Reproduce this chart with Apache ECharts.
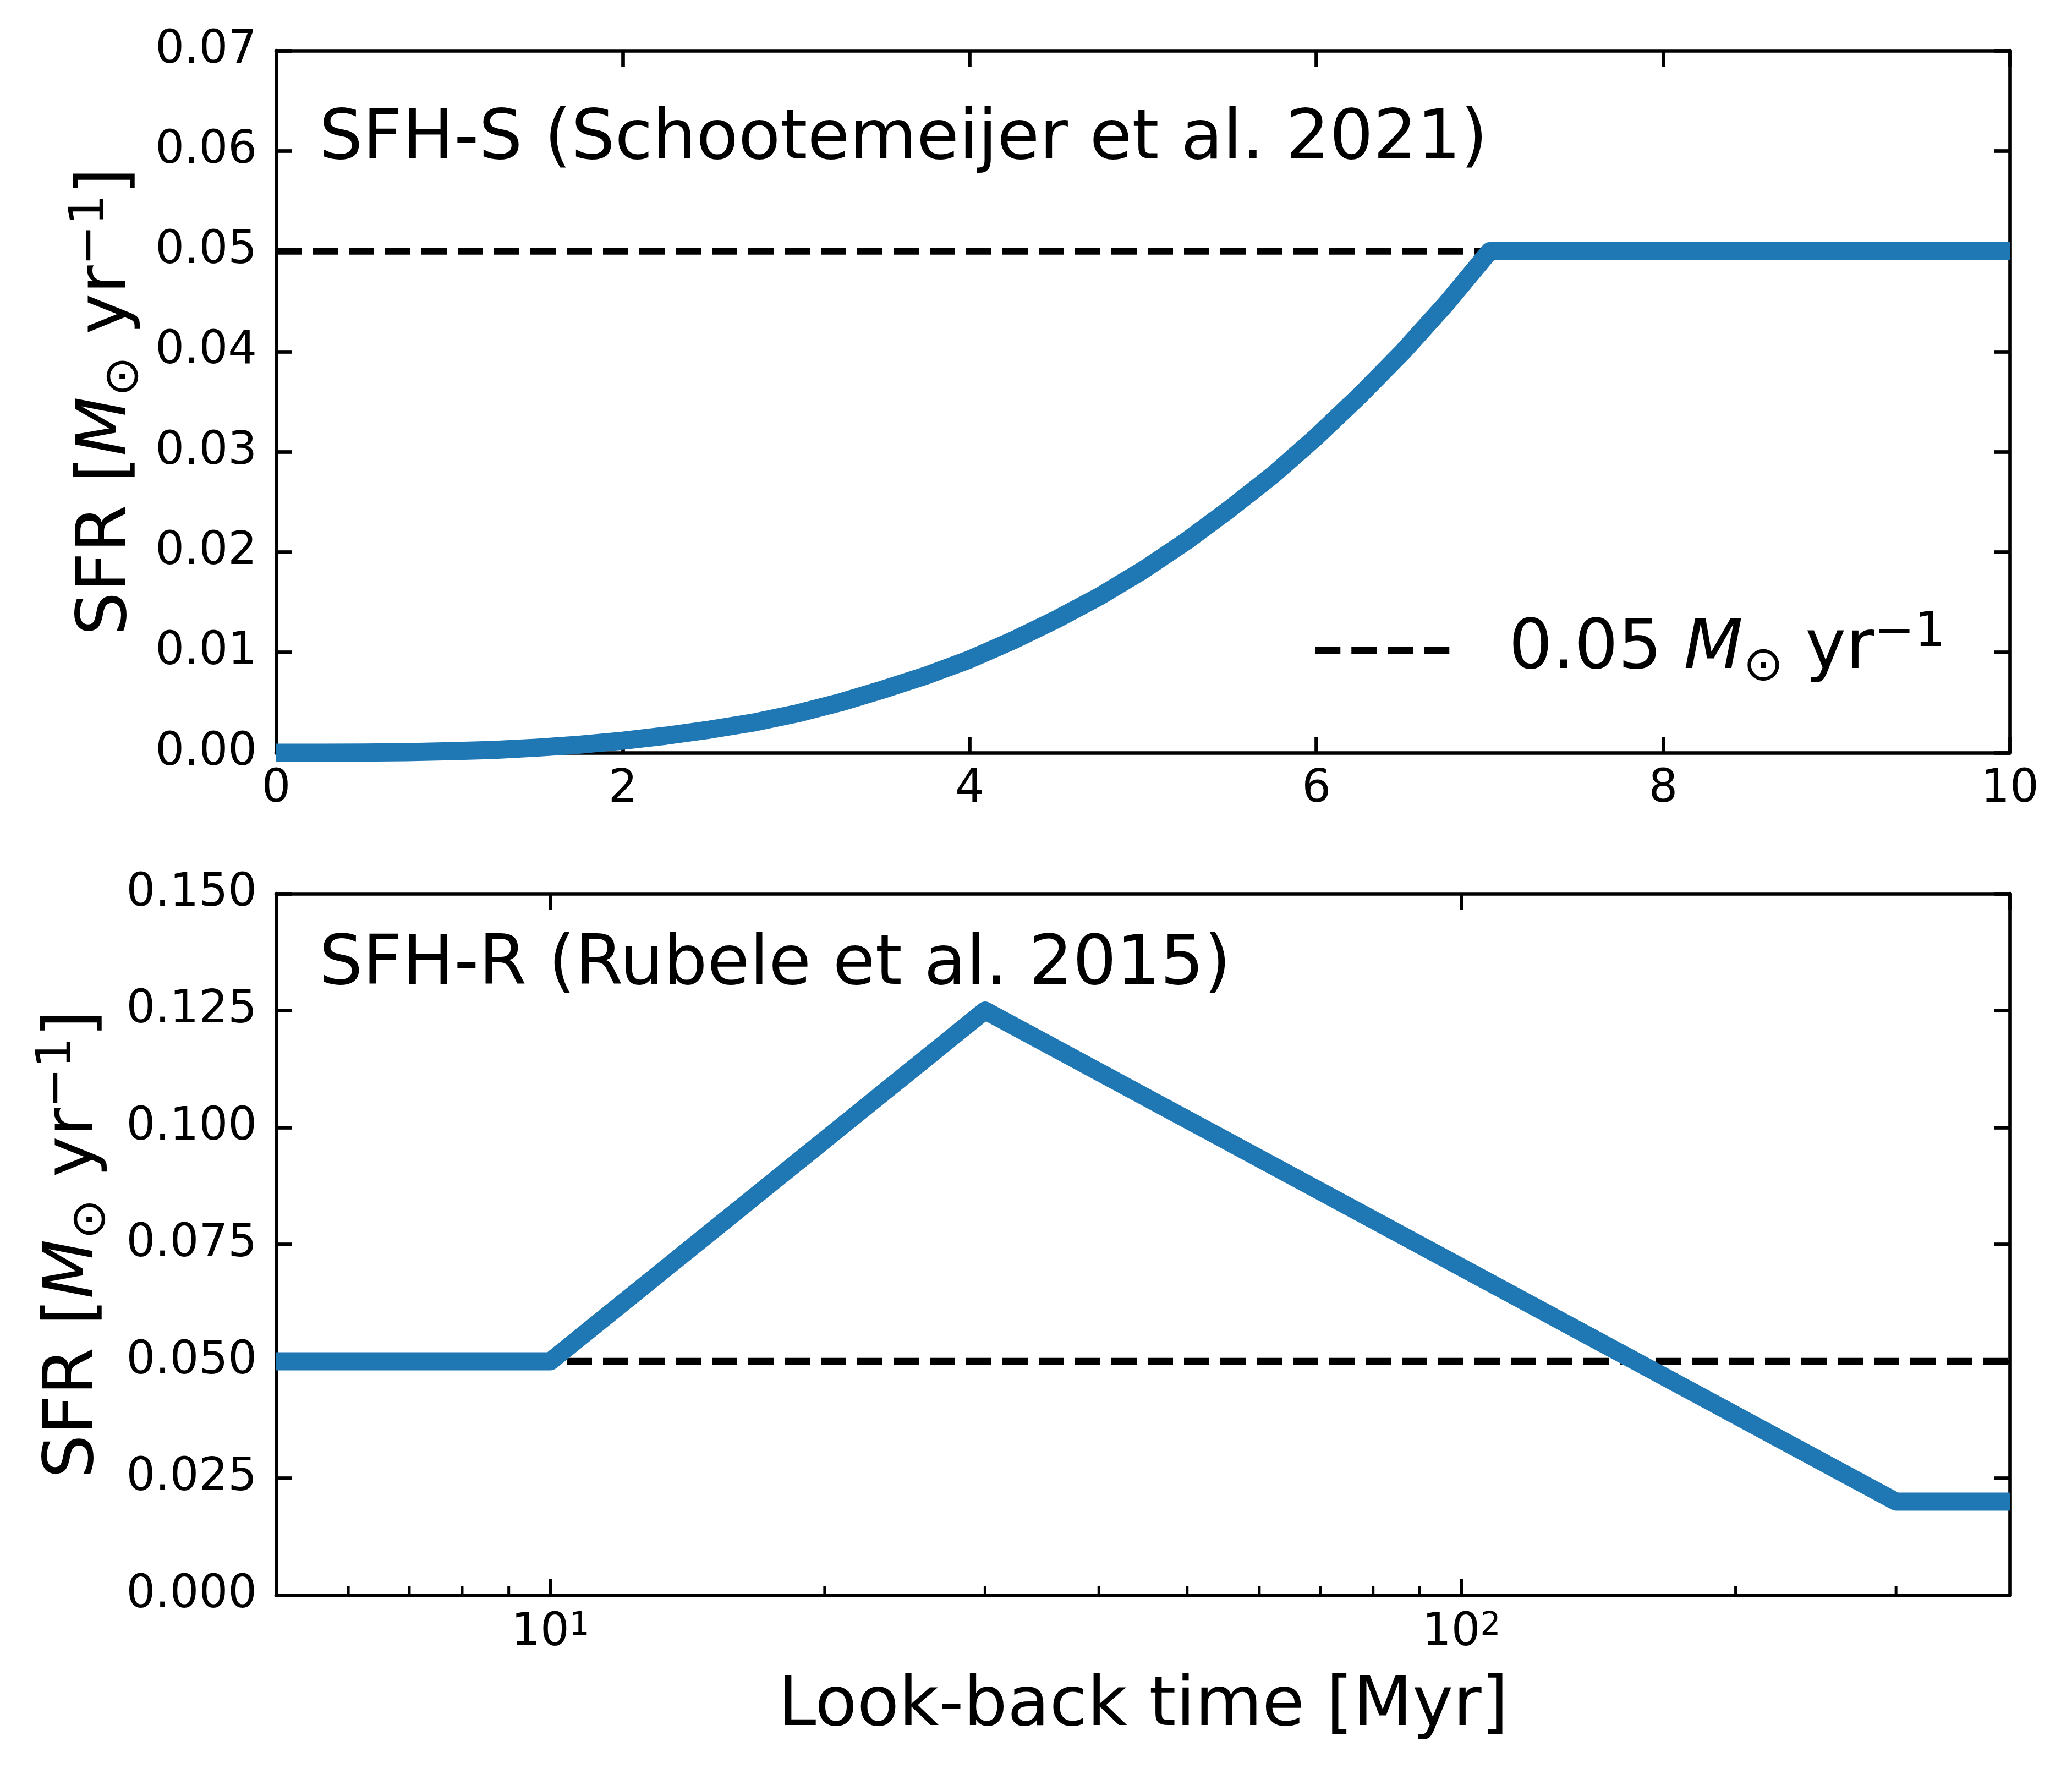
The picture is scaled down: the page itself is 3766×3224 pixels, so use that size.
<!DOCTYPE html>
<html><head><meta charset="utf-8">
<script src="https://cdn.jsdelivr.net/npm/echarts@6/dist/echarts.min.js"></script>
<style>html,body{margin:0;padding:0;background:#fff}#c{width:3766px;height:3224px}</style>
</head><body><div id="c"></div>
<script>
// ---- data ----
const topTime = [0, 0.25, 0.5, 0.75, 1, 1.25, 1.5, 1.75, 2, 2.25, 2.5, 2.75, 3, 3.25, 3.5, 3.75,
                 4, 4.25, 4.5, 4.75, 5, 5.25, 5.5, 5.75, 6, 6.25, 6.5, 6.75, 7, 10];
const topSFR  = [0, 0.000002, 0.00002, 0.00006, 0.00015, 0.00028, 0.0005, 0.0008, 0.0012, 0.0017,
                 0.0023, 0.0030, 0.0039, 0.0050, 0.0063, 0.0077, 0.0093, 0.0112, 0.0133, 0.0156,
                 0.0182, 0.0211, 0.0243, 0.0277, 0.0315, 0.0356, 0.0400, 0.0448, 0.05, 0.05];
const botTime = [5, 10, 30, 300, 400];
const botSFR  = [0.05, 0.05, 0.125, 0.02, 0.02];
const refLevel = 0.05;
const topXRange = [0, 10], topXStep = 2;
const topYRange = [0, 0.07], topYStep = 0.01;
const botXRange = [5, 400];
const botYRange = [0, 0.15], botYStep = 0.025;
const minorTickTimes = [6, 7, 8, 9, 20, 30, 40, 50, 60, 70, 80, 90, 200, 300];
const topTitle = 'SFH-S (Schootemeijer et al. 2021)';
const botTitle = 'SFH-R (Rubele et al. 2015)';
const xName = 'Look-back time [Myr]';

// ---- styles ----
const FF = 'DejaVu Sans';
const BLUE = '#1f77b4';
const FS_TICK = 83, FS_LAB = 125;
const AXW = 6.67;
const unitRich = {
  n: {fontFamily: FF, fontSize: FS_LAB, color: '#000', lineHeight: 150},
  i: {fontFamily: FF, fontSize: FS_LAB, fontStyle: 'italic', color: '#000', lineHeight: 150},
  sub: {fontFamily: FF, fontSize: 87.5, color: '#000', lineHeight: 108, verticalAlign: 'bottom'},
  sup: {fontFamily: FF, fontSize: 87.5, color: '#000', lineHeight: 76, verticalAlign: 'top'},
  g: {width: 102, lineHeight: 150, fontSize: FS_LAB, fontFamily: FF}
};
const yNameStr = '{n|SFR [}{i|M}{sub|⊙}{n| yr}{sup|−1}{n|]}';

const G1 = {left: 502, top: 92, width: 3151, height: 1276};
const G2 = {left: 502, top: 1624, width: 3151, height: 1275};

function axisBase() {
  return {
    axisLine: {show: true, onZero: false, lineStyle: {color: '#000', width: AXW}},
    axisTick: {show: true, inside: true, length: 29, lineStyle: {color: '#000', width: AXW}},
    splitLine: {show: false},
    minorTick: {show: false},
    nameMoveOverlap: false
  };
}
function valueX(grid, pos, range, step, labels) {
  return Object.assign(axisBase(), {
    type: 'value', gridIndex: grid, position: pos, min: range[0], max: range[1], interval: step,
    axisLabel: {show: labels, margin: 26, fontFamily: FF, fontSize: FS_TICK, color: '#000',
      formatter: v => String(v)}
  });
}
function valueY(grid, pos, range, step, labels, dec) {
  return Object.assign(axisBase(), {
    type: 'value', gridIndex: grid, position: pos, min: range[0], max: range[1], interval: step,
    axisLabel: {show: labels, margin: 35, fontFamily: FF, fontSize: FS_TICK, color: '#000',
      formatter: v => v.toFixed(dec)}
  });
}
function logX(grid, pos, labels) {
  return Object.assign(axisBase(), {
    type: 'log', logBase: 10, gridIndex: grid, position: pos, min: botXRange[0], max: botXRange[1],
    axisLabel: {show: labels, margin: 28, showMinLabel: false, showMaxLabel: false,
      formatter: v => {
        const e = Math.log10(v);
        if (Math.abs(e - Math.round(e)) < 1e-6) return '{b|10}{s|' + Math.round(e) + '}';
        return '';
      },
      rich: {
        b: {fontFamily: FF, fontSize: FS_TICK, color: '#000', lineHeight: 83},
        s: {fontFamily: FF, fontSize: 58, color: '#000', lineHeight: 28, verticalAlign: 'top'}
      }}
  });
}

const xAxes = [
  valueX(0, 'bottom', topXRange, topXStep, true),
  valueX(0, 'top', topXRange, topXStep, false),
  Object.assign(logX(1, 'bottom', true), {
    name: xName, nameLocation: 'middle', nameGap: 141,
    nameTextStyle: {fontFamily: FF, fontSize: FS_LAB, color: '#000', lineHeight: 125}
  }),
  logX(1, 'top', false)
];
const yAxes = [
  Object.assign(valueY(0, 'left', topYRange, topYStep, true, 2), {
    name: yNameStr, nameLocation: 'middle', nameRotate: 90, nameGap: 231,
    nameTextStyle: {fontFamily: FF, fontSize: FS_LAB, color: '#000', rich: unitRich}
  }),
  valueY(0, 'right', topYRange, topYStep, false, 2),
  Object.assign(valueY(1, 'left', botYRange, botYStep, true, 3), {
    name: yNameStr, nameLocation: 'middle', nameRotate: 90, nameGap: 291,
    nameTextStyle: {fontFamily: FF, fontSize: FS_LAB, color: '#000', rich: unitRich}
  }),
  valueY(1, 'right', botYRange, botYStep, false, 3)
];

const dashStyle = {color: '#000', width: 12.5, type: [46, 20], cap: 'butt'};
const blueStyle = {color: BLUE, width: 33, join: 'round', cap: 'butt'};

const option = {
  animation: false,
  backgroundColor: '#fff',
  grid: [
    Object.assign({containLabel: false, outerBoundsMode: 'none'}, G1),
    Object.assign({containLabel: false, outerBoundsMode: 'none'}, G2)
  ],
  title: [
    {text: topTitle, left: 580, top: 181, padding: 0,
     textStyle: {fontFamily: FF, fontSize: FS_LAB, fontWeight: 'normal', color: '#000', lineHeight: 150}},
    {text: botTitle, left: 580, top: 1681, padding: 0,
     textStyle: {fontFamily: FF, fontSize: FS_LAB, fontWeight: 'normal', color: '#000', lineHeight: 150}}
  ],
  legend: {
    data: ['ref'], left: 2384, top: 1107, padding: 0,
    itemWidth: 245, itemHeight: 40,
    itemStyle: {opacity: 0},
    lineStyle: {color: '#000', width: 12.5, type: [46, 20], cap: 'butt'},
    formatter: () => '{g| }{n|0.05 }{i|M}{sub|⊙}{n| yr}{sup|−1}',
    textStyle: {fontFamily: FF, fontSize: FS_LAB, color: '#000', rich: unitRich},
    selectedMode: false
  },
  xAxis: xAxes,
  yAxis: yAxes,
  series: [
    {name: 'ref', type: 'line', xAxisIndex: 0, yAxisIndex: 0, symbol: 'none', silent: true,
     data: [[topXRange[0], refLevel], [topXRange[1], refLevel]], lineStyle: dashStyle, z: 2},
    {name: 'SFH-S', type: 'line', xAxisIndex: 0, yAxisIndex: 0, symbol: 'none', silent: true,
     data: topTime.map((t, i) => [t, topSFR[i]]), lineStyle: blueStyle, z: 3},
    {name: 'ref2', type: 'line', xAxisIndex: 2, yAxisIndex: 2, symbol: 'none', silent: true,
     data: [[botXRange[0], refLevel], [botXRange[1], refLevel]], lineStyle: dashStyle, z: 2},
    {name: 'SFH-R', type: 'line', xAxisIndex: 2, yAxisIndex: 2, symbol: 'none', silent: true,
     data: botTime.map((t, i) => [t, botSFR[i]]), lineStyle: blueStyle, z: 3},
    {name: 'minor', type: 'custom', xAxisIndex: 2, yAxisIndex: 2, silent: true, clip: false, z: 5,
     data: minorTickTimes.map(t => [t, botYRange[0]]),
     renderItem: (params, api) => {
       const p = api.coord([api.value(0), api.value(1)]);
       return {type: 'line', shape: {x1: p[0], y1: p[1], x2: p[0], y2: p[1] - 17},
               style: {stroke: '#000', lineWidth: 5}};
     }}
  ]
};
const chart = echarts.init(document.getElementById('c'), null, {renderer: 'canvas'});
chart.setOption(option);
</script></body></html>
